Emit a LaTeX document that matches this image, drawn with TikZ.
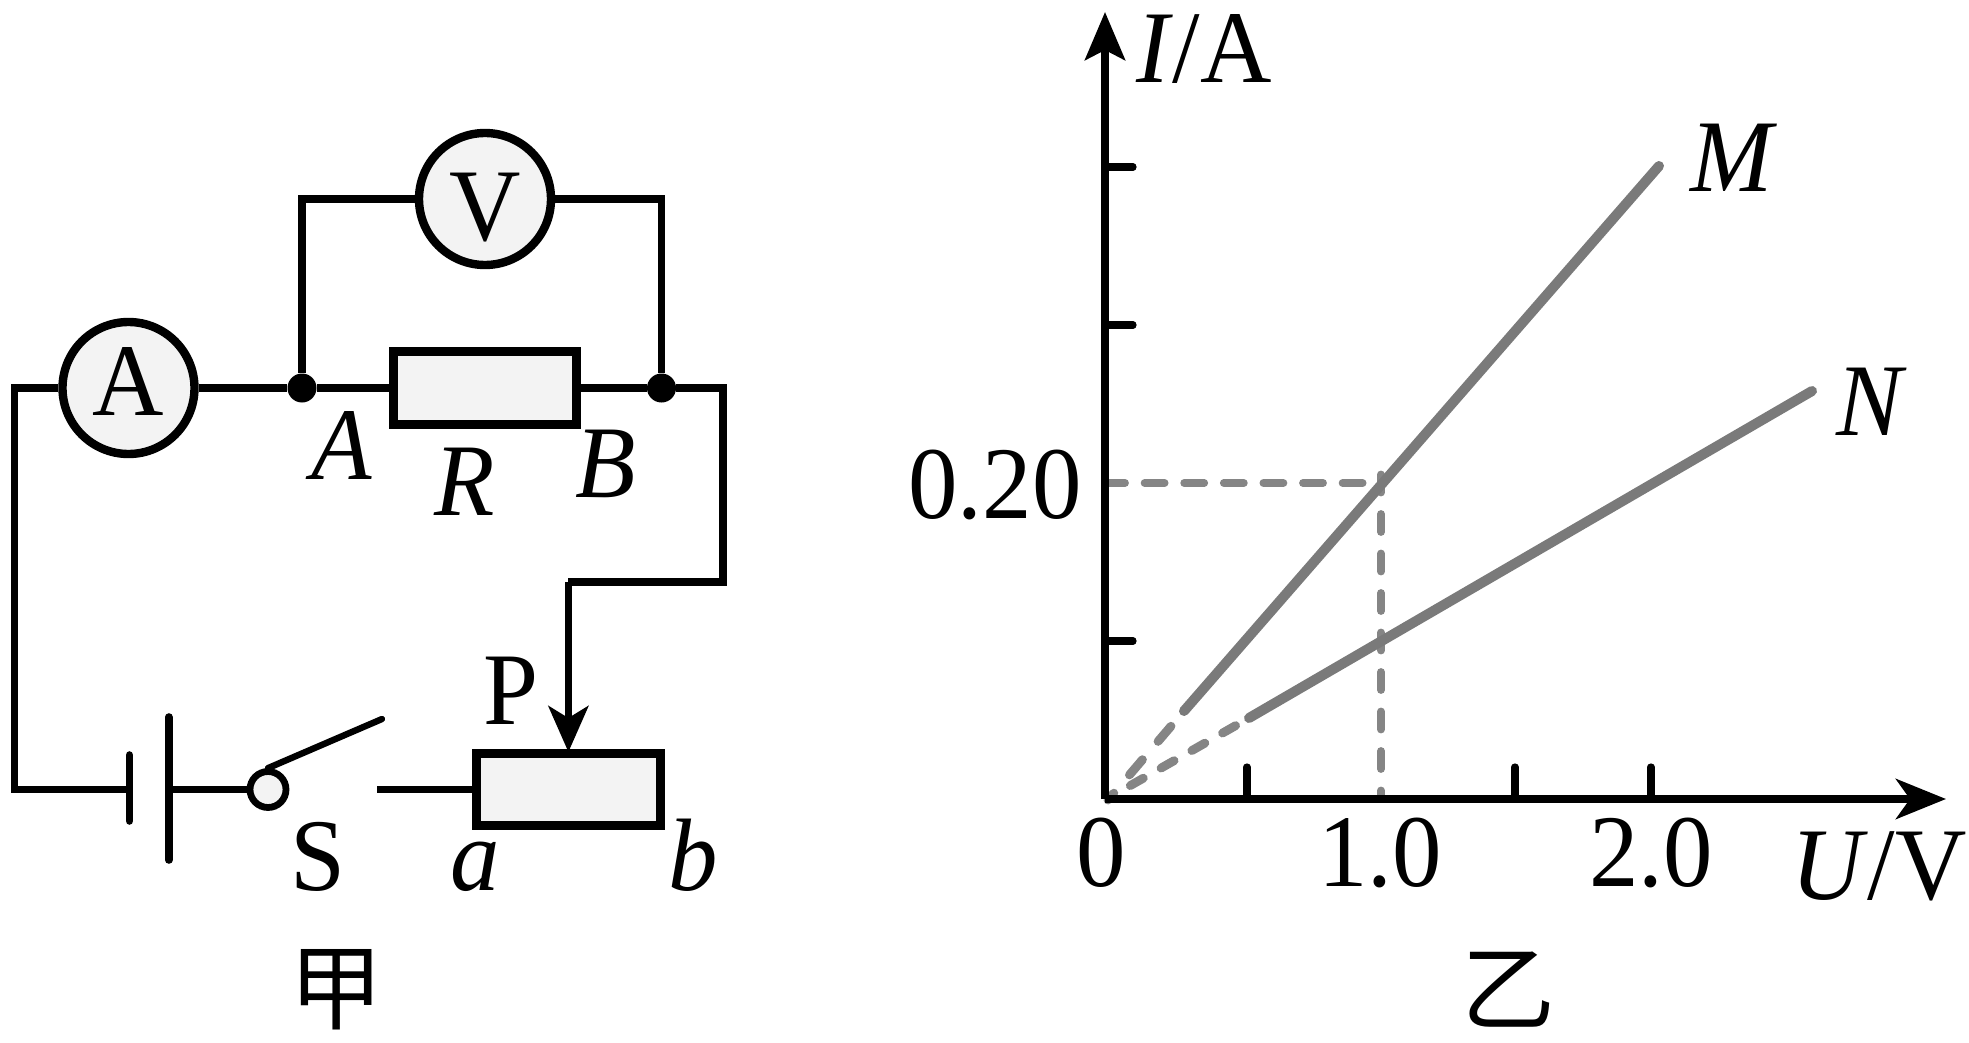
\documentclass[tikz,border=0pt]{standalone}
\usepackage{fontspec}
\setmainfont[FakeStretch=0.96]{Liberation Serif}
\newfontfamily\cjk{Noto Sans CJK SC}
\usetikzlibrary{arrows.meta}
\definecolor{boxfill}{HTML}{F3F3F3}
\definecolor{solidgray}{HTML}{7A7A7A}
\definecolor{dashgray}{HTML}{858585}
\tikzset{
  wire/.style={line width=3.8pt,line join=miter,black},
  meter/.style={circle,draw=black,fill=boxfill,line width=4.2pt,minimum size=66pt,inner sep=0pt},
  elem/.style={rectangle,draw=black,fill=boxfill,line width=4.2pt,inner sep=0pt},
  junction/.style={circle,fill=black,minimum size=14.5pt,inner sep=0pt},
  lbl/.style={anchor=base,inner sep=0pt,outer sep=0pt,font=\fontsize{51.5pt}{51.5pt}\selectfont},
  cjklbl/.style={anchor=center,inner sep=0pt,outer sep=0pt,font=\fontsize{47pt}{47pt}\selectfont\cjk},
  tick/.style={line width=3.6pt,line cap=round,black},
  curve/.style={line width=5pt,solidgray,line cap=round},
  guide/.style={line width=3.9pt,dashgray,line cap=round,dash pattern=on 10pt off 9.8pt},
  tipaxis/.style={-{Stealth[length=24pt,width=20pt,inset=5pt]}},
  tipx/.style={-{Stealth[length=25pt,width=20pt,inset=7pt]}},
  tipp/.style={-{Stealth[length=23pt,width=20pt,inset=6pt]}},
}
\begin{document}
\begin{tikzpicture}[x=0.5pt,y=-0.5pt]
\useasboundingbox (0,0) rectangle (1969,1043);
% circuit elements
\node[meter] (am) at (128.5,388) {};
\node[meter] (vm) at (485,199) {};
\node[elem,minimum width=91.5pt,minimum height=36.5pt] (R) at (485,388) {};
\node[elem,minimum width=92pt,minimum height=36pt] (rh) at (568.4,789.5) {};
\node[junction] (dA) at (302,388) {};
\node[junction] (dB) at (661.5,388) {};
\node[circle,draw=black,fill=boxfill,line width=3.4pt,minimum size=18pt,inner sep=0pt] (sw) at (268,789.5) {};
\coordinate (lt) at (14.5,388);
\coordinate (lb) at (14.5,789.5);
\coordinate (rt) at (723,388);
\coordinate (rm) at (723,582);
\coordinate (pm) at (568.4,582);
\coordinate (pt) at (568.4,752);
\coordinate (vl) at (302,199);
\coordinate (vr) at (661.5,199);
\coordinate (bs1) at (129.4,755);
\coordinate (bs2) at (129.4,821);
\coordinate (bl1) at (168.7,717);
\coordinate (bl2) at (168.7,860);
\coordinate (bsm) at (129.4,789.5);
\coordinate (blm) at (168.7,789.5);
\coordinate (sa) at (382,719);
\coordinate (sb) at (377,789.5);
% wires
\draw[wire] (am.west) -- (lt) -- (lb) -- (bsm);
\draw[wire] (am.east) -- (dA) -- (R.west);
\draw[wire] (R.east) -- (dB) -- (rt) -- (rm) -- (pm);
\draw[wire,line width=3.4pt,tipp] (pm) -- (pt);
\draw[wire] (dA) -- (vl) -- (vm.west);
\draw[wire] (dB) -- (vr) -- (vm.east);
\draw[wire,line cap=round] (bs1) -- (bs2);
\draw[wire,line cap=round] (bl1) -- (bl2);
\draw[wire] (blm) -- (sw.west);
\draw[wire,line cap=round,line width=3.2pt] (sw.north) -- (sa);
\draw[wire] (sb) -- (rh.west);
% circuit labels
\node[lbl] (tA) at (128.5,415) {A};
\node[lbl] (tV) at (485,241) {V};
\node[lbl] (lA) at (342,479) {\textit{A}};
\node[lbl] (lR) at (465,515) {\textit{R}};
\node[lbl] (lB) at (606,497) {\textit{B}};
\node[lbl] (lP) at (511,724) {P};
\node[lbl] (lS) at (317.5,890) {S};
\node[lbl] (la) at (475,890) {\textit{a}};
\node[lbl] (lb2) at (693,890) {\textit{b}};
\node[cjklbl] (jia) at (336,990) {甲};
% graph
\coordinate (O) at (1105,799);
\coordinate (ytip) at (1105,12);
\coordinate (xtip) at (1946,799);
\coordinate (y1) at (1105,641);
\coordinate (y3) at (1105,325);
\coordinate (y4) at (1105,167);
\coordinate (y1e) at (1133,641);
\coordinate (y3e) at (1133,325);
\coordinate (y4e) at (1133,167);
\coordinate (x1) at (1247,799);
\coordinate (x3) at (1515,799);
\coordinate (x4) at (1651,799);
\coordinate (x1e) at (1247,767);
\coordinate (x3e) at (1515,767);
\coordinate (x4e) at (1651,767);
\coordinate (gh) at (1105,483);
\coordinate (gc) at (1381,483);
\coordinate (gv) at (1381,474.5);
\coordinate (gb) at (1381,799);
\coordinate (Ms) at (1184,711);
\coordinate (Me) at (1659,166);
\coordinate (Ns) at (1249,718);
\coordinate (Ne) at (1812,391);
\coordinate (Mo) at (1108,800);
\coordinate (No) at (1112,796);
\draw[guide] (gh) -- (gc);
\draw[guide,dash pattern=on 9pt off 10.75pt] (gv) -- (gb);
\draw[curve] (Ms) -- (Me);
\draw[curve] (Ns) -- (Ne);
\draw[curve,line width=4.4pt,dashgray,dash pattern=on 10pt off 12pt,dash phase=12pt] (Ms) -- (Mo);
\draw[curve,line width=4.4pt,dashgray,dash pattern=on 7.5pt off 10.2pt,dash phase=10pt] (Ns) -- (No);
\draw[tick] (y1) -- (y1e);
\draw[tick] (y3) -- (y3e);
\draw[tick] (y4) -- (y4e);
\draw[tick] (x1) -- (x1e);
\draw[tick] (x3) -- (x3e);
\draw[tick] (x4) -- (x4e);
\draw[wire,tipaxis] (O) -- (ytip);
\draw[wire,tipx,line width=4pt] (O) -- (xtip);
% graph labels
\node[lbl] (tI) at (1204,83) {\textit{I}/A};
\node[lbl] (t020) at (995,518) {0.20};
\node[lbl] (t0) at (1101,886) {0};
\node[lbl] (t1) at (1380,886) {1.0};
\node[lbl] (t2) at (1651,886) {2.0};
\node[lbl] (tU) at (1879,899) {\textit{U}/V};
\node[lbl] (tM) at (1734,192) {\textit{M}};
\node[lbl] (tN) at (1872,435) {\textit{N}};
\node[cjklbl] (yi) at (1508,990) {乙};
\end{tikzpicture}
\end{document}
